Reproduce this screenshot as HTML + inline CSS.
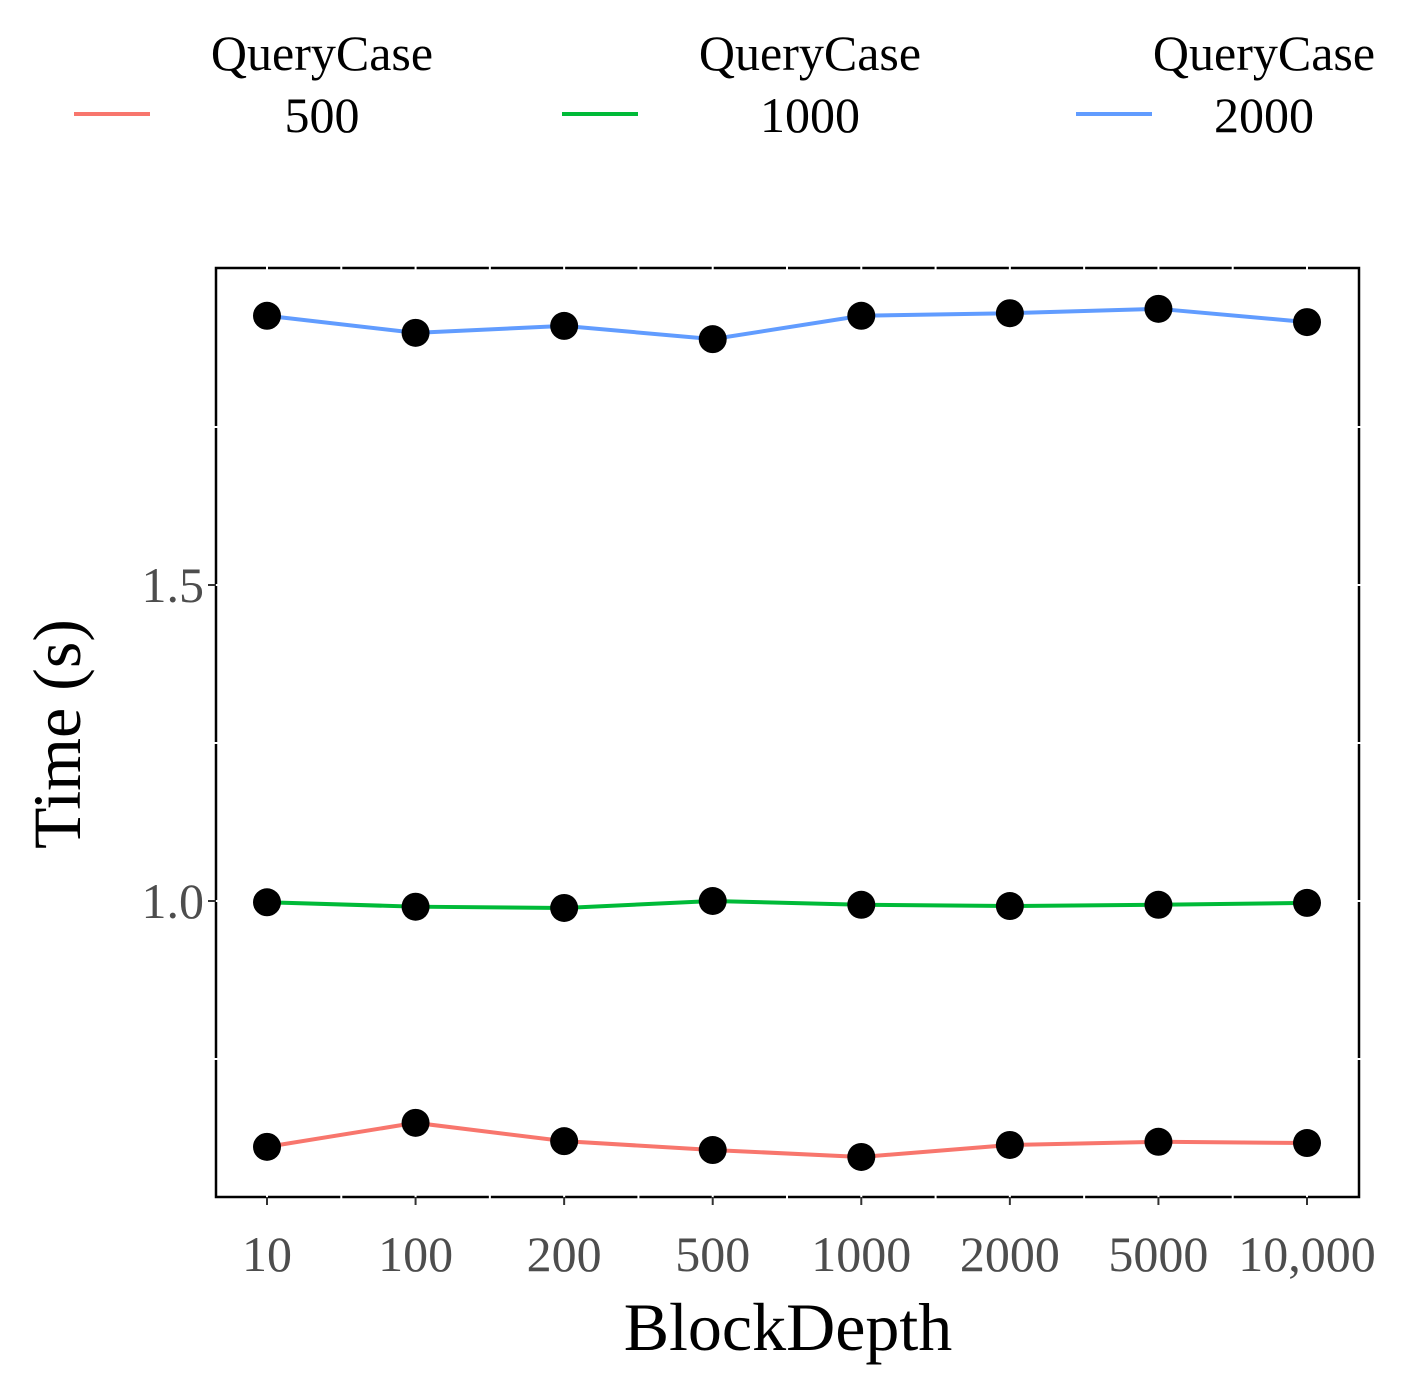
<!DOCTYPE html>
<html><head><meta charset="utf-8"><style>
html,body{margin:0;padding:0;background:#fff;}
svg{display:block;font-family:"Liberation Serif",serif;}
</style></head><body>
<svg width="1414" height="1397" viewBox="0 0 1414 1397">
<g id="legend"></g>
<g id="plot"></g>
<text x="80" y="734" font-size="68" text-anchor="middle" transform="rotate(-90 80 734)">Time (s)</text>
<text x="788" y="1350" font-size="68" text-anchor="middle">BlockDepth</text>
</svg>
<script>
const categories = ["10","100","200","500","1000","2000","5000","10,000"];
const seriesNames = ["500","1000","2000"];
const seriesColors = ["#F8766D","#00BA38","#619CFF"];
const q500 = [0.611,0.649,0.620,0.606,0.595,0.614,0.619,0.617];
const q1000 = [0.998,0.991,0.989,1.000,0.994,0.992,0.994,0.997];
const q2000 = [1.926,1.899,1.910,1.889,1.926,1.930,1.937,1.916];
const yTicks = [1.0,1.5];
const yTickLabels = ["1.0","1.5"];
const yGrid = [0.75,1.0,1.25,1.5,1.75];

const NS="http://www.w3.org/2000/svg";
const L=216,R=1359,T=268,B=1197;
function xs(i){return 267+i*(1307-267)/(categories.length-1);}
function ys(v){return 901-(v-1.0)*632;}
function mk(tag,attrs,parent){const e=document.createElementNS(NS,tag);for(const k in attrs)e.setAttribute(k,attrs[k]);parent.appendChild(e);return e;}
const plot=document.getElementById('plot');
const border=mk('rect',{x:L,y:T,width:R-L,height:B-T,fill:'none',stroke:'#000','stroke-width':2.5},plot);


yGrid.forEach(v=>{const g=mk('line',{x1:L-3,x2:R+3,y1:ys(v),y2:ys(v),stroke:'#fff','stroke-width':2},plot);

});
for(let i=0;i<categories.length;i++){[xs(i),xs(i)+(xs(1)-xs(0))/2].forEach((x,j)=>{if(j===1&&i===categories.length-1)return;
const g=mk('line',{x1:x,x2:x,y1:T-3,y2:B+3,stroke:'#fff','stroke-width':2},plot);

});}
yTicks.forEach((v,i)=>{const t=mk('line',{x1:L-8,x2:L,y1:ys(v),y2:ys(v),stroke:'#333','stroke-width':2},plot);


const lb=mk('text',{x:L-12,y:ys(v)+17,'font-size':50,fill:'#4d4d4d','text-anchor':'end'},plot);lb.textContent=yTickLabels[i];

});
categories.forEach((c,i)=>{const t=mk('line',{x1:xs(i),x2:xs(i),y1:B,y2:B+8,stroke:'#333','stroke-width':2},plot);


const lb=mk('text',{x:xs(i),y:1271,'font-size':50,fill:'#4d4d4d','text-anchor':'middle'},plot);lb.textContent=c;

});
const all=[q500,q1000,q2000];
all.forEach((s,k)=>{const p=mk('polyline',{points:s.map((v,i)=>xs(i)+','+ys(v)).join(' '),fill:'none',stroke:seriesColors[k],'stroke-width':4},plot);

});
all.forEach((s,k)=>{s.forEach((v,i)=>{const c=mk('circle',{cx:xs(i),cy:ys(v),r:14,fill:'#000'},plot);

});});
const leg=document.getElementById('legend');
const lx=[[74,322],[562,810],[1076,1264]];
seriesNames.forEach((n,k)=>{const g=mk('g',{},leg);


mk('line',{x1:lx[k][0],x2:lx[k][0]+76,y1:114,y2:114,stroke:seriesColors[k],'stroke-width':4},g);
const t1=mk('text',{x:lx[k][1],y:70,'font-size':50,'text-anchor':'middle'},g);t1.textContent='QueryCase';
const t2=mk('text',{x:lx[k][1],y:132,'font-size':50,'text-anchor':'middle'},g);t2.textContent=n;});
</script>
</body></html>
